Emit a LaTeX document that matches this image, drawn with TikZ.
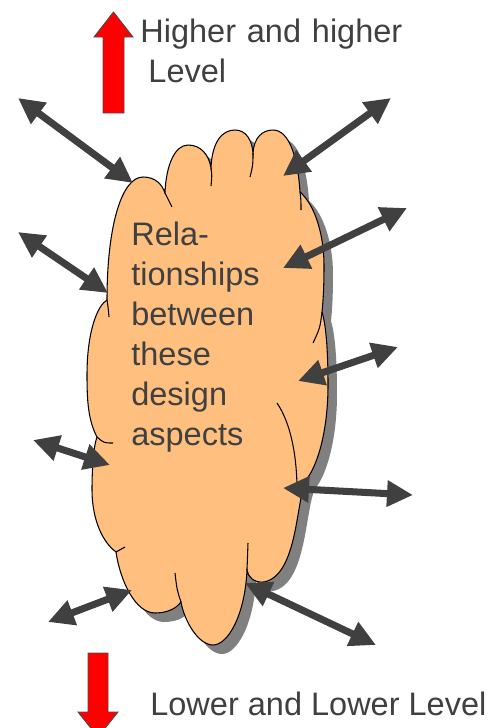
\documentclass[tikz,border=0pt]{standalone}
\usepackage{fontspec}
\setmainfont{Liberation Sans}
\usetikzlibrary{arrows.meta}
\definecolor{cloudfill}{RGB}{255,191,127}
\definecolor{shadowgray}{RGB}{128,128,128}
\definecolor{darkgray}{RGB}{64,64,64}
\newcommand\cloudpath{(107,300)
 .. controls (107,225) and (122,177) .. (143,177) .. controls (155,177) and (162,184) .. (165,193)
 .. controls (166,165) and (175,145) .. (188,145) .. controls (201,145) and (209,155) .. (211,168)
 .. controls (212,142) and (222,130) .. (235,130) .. controls (246,130) and (252,140) .. (253,153)
 .. controls (254,138) and (262,130) .. (273,130) .. controls (290,130) and (298,160) .. (300,192)
 .. controls (315,205) and (324,235) .. (324,265) .. controls (324,290) and (323,302) .. (322,312)
 .. controls (326,325) and (328,350) .. (328,385) .. controls (328,430) and (318,465) .. (306,480)
 .. controls (296,500) and (298,575) .. (264,582) .. controls (254,583) and (248,577) .. (247,570)
 .. controls (245,615) and (228,645) .. (213,645) .. controls (198,645) and (184,620) .. (181,602)
 .. controls (175,610) and (165,613) .. (155,613) .. controls (135,613) and (120,580) .. (116,552)
 .. controls (100,540) and (92,515) .. (92,490) .. controls (92,465) and (94,445) .. (97,437)
 .. controls (88,420) and (87,400) .. (87,375) .. controls (87,330) and (98,305) .. (107,300)
 -- cycle}

\begin{document}
\begin{tikzpicture}[x=0.02cm,y=-0.02cm,
  link/.style={draw=darkgray, line width=4pt,
    {Triangle[length=0.52cm,width=0.5cm]}-{Triangle[length=0.52cm,width=0.5cm]}},
  crease/.style={line width=0.6pt},
  level arrow/.style={fill=red, draw=gray!60!black, line width=0.5pt},
  label text/.style={text=darkgray, inner sep=0pt, anchor=base west,
    font=\fontsize{18.5}{22.8}\selectfont, align=left}]
\useasboundingbox (0,0) rectangle (499,728);
\fill[shadowgray, shift={(9,9)}] \cloudpath;
\filldraw[fill=cloudfill, draw=black, line width=0.6pt] \cloudpath;
\draw[crease] (107,300) .. controls (108,306) .. (109,317);
\draw[crease] (165,193) .. controls (168,199) .. (172,207);
\draw[crease] (211,168) .. controls (212,176) .. (211,186);
\draw[crease] (253,153) .. controls (253,165) .. (250,177);
\draw[crease] (300,192) .. controls (301,200) .. (301,210);
\draw[crease] (322,312) .. controls (320,328) .. (313,343);
\draw[crease] (277,403) .. controls (292,425) and (297,460) .. (297,490);
\draw[crease] (247,570) .. controls (247,556) .. (248,543);
\draw[crease] (181,602) .. controls (177,590) .. (175,573);
\draw[crease] (116,552) .. controls (120,550) .. (125,547);
\draw[crease] (97,437) .. controls (104,443) .. (113,443);
\node[label text, text width=4cm] (inside) at (131,245) {Rela-\\tionships\\between\\these\\design\\aspects};
\foreach \n/\ox/\oy/\ix/\iy in {1/18/98/133/183, 2/391/98/283/176, 3/18/232/108/293,
  4/407/208/283/268, 5/398/347/298/381, 6/33/440/110/465, 7/413/495/283/488,
  8/48/622/132/590, 9/376/645/245/583}{
  \coordinate (out\n) at (\ox,\oy);
  \coordinate (in\n) at (\ix,\iy);
  \draw[link] (out\n) -- (in\n);
}
\draw[level arrow] (103,113) -- (103,37) -- (94,37) -- (113.5,12) -- (133,37) -- (124,37) -- (124,113) -- cycle;
\draw[level arrow] (88,653) -- (88,712) -- (78,712) -- (98,737) -- (118,712) -- (108,712) -- (108,653) -- cycle;
\node[label text, text width=6cm] (higher) at (140,42) {Higher and higher\\\hspace*{.25em}Level};
\node[label text] (lower) at (150,715) {Lower and Lower Level};
\end{tikzpicture}
\end{document}
